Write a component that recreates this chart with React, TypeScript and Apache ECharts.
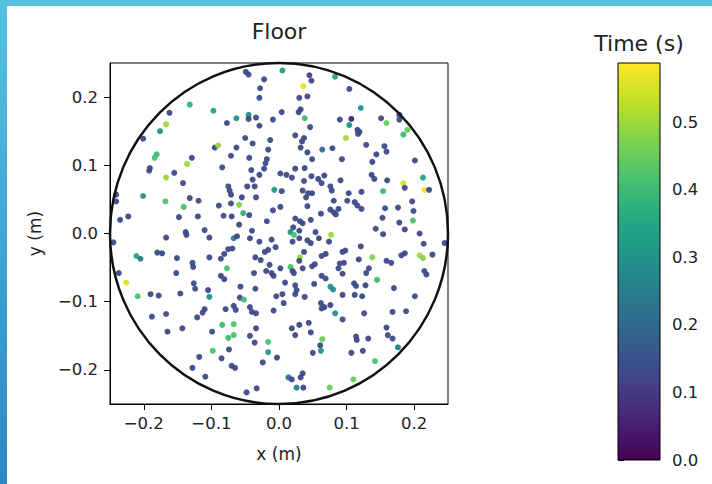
import React, { useEffect, useRef } from "react";
import * as echarts from "echarts";

// viridis colour map stops
const viridis = ["#440154", "#482475", "#414487", "#355f8d", "#2a788e", "#21918c", "#22a884", "#44bf70", "#7ad151", "#bddf26", "#fde725"];

const xTicks = [-0.2, -0.1, 0, 0.1, 0.2];
const yTicks = [-0.2, -0.1, 0, 0.1, 0.2];
const cbTicks = [0, 0.1, 0.2, 0.3, 0.4, 0.5];
const timeMax = 0.588;
const floorRadius = 0.25;

// [x (m), y (m), time (s)], by region
const centerNW = [
  [-0.050, 0.140, 0.13], [-0.013, 0.137, 0.13], [-0.039, 0.132, 0.13], [-0.095, 0.126, 0.13], [-0.090, 0.129, 0.50],
  [-0.063, 0.126, 0.13], [-0.016, 0.123, 0.13], [-0.129, 0.111, 0.13], [-0.071, 0.114, 0.13], [-0.044, 0.111, 0.13],
  [-0.018, 0.109, 0.13], [-0.020, 0.103, 0.13], [-0.136, 0.102, 0.50], [-0.084, 0.097, 0.13], [-0.022, 0.095, 0.13],
  [-0.041, 0.093, 0.13], [-0.029, 0.086, 0.13], [-0.039, 0.079, 0.13], [-0.142, 0.074, 0.13], [-0.075, 0.069, 0.13],
  [-0.073, 0.063, 0.13], [-0.071, 0.057, 0.13], [-0.047, 0.069, 0.13], [-0.036, 0.069, 0.13], [-0.007, 0.064, 0.32],
  [-0.055, 0.053, 0.13], [-0.034, 0.053, 0.13], [-0.132, 0.052, 0.13], [-0.119, 0.048, 0.13], [-0.071, 0.044, 0.13],
  [-0.059, 0.042, 0.48], [-0.141, 0.039, 0.42], [-0.089, 0.041, 0.13], [-0.009, 0.034, 0.13], [-0.053, 0.030, 0.38],
  [-0.044, 0.027, 0.13], [-0.082, 0.026, 0.13], [-0.070, 0.025, 0.13], [-0.120, 0.025, 0.13], [-0.148, 0.024, 0.13],
  [-0.018, 0.018, 0.13], [-0.059, 0.013, 0.13], [-0.110, 0.005, 0.13], [-0.138, 0.002, 0.13], [-0.040, 0.004, 0.13],
];

const centerNE = [
  [0.024, 0.144, 0.13], [0.037, 0.140, 0.13], [0.034, 0.135, 0.13], [0.099, 0.140, 0.50], [0.117, 0.146, 0.13],
  [0.129, 0.130, 0.13], [0.032, 0.126, 0.13], [0.064, 0.123, 0.20], [0.079, 0.125, 0.13], [0.042, 0.119, 0.13],
  [0.049, 0.109, 0.13], [0.093, 0.109, 0.13], [0.144, 0.116, 0.13], [0.138, 0.105, 0.13], [0.024, 0.095, 0.13],
  [0.038, 0.096, 0.13], [0.002, 0.088, 0.13], [0.011, 0.086, 0.13], [0.019, 0.082, 0.13], [0.137, 0.086, 0.13],
  [0.141, 0.080, 0.13], [0.048, 0.084, 0.13], [0.067, 0.085, 0.13], [0.058, 0.080, 0.13], [0.063, 0.074, 0.13],
  [0.037, 0.077, 0.13], [0.091, 0.078, 0.13], [0.076, 0.069, 0.13], [0.078, 0.063, 0.13], [0.004, 0.062, 0.13],
  [0.035, 0.063, 0.13], [0.043, 0.059, 0.13], [0.049, 0.059, 0.13], [0.040, 0.053, 0.13], [0.103, 0.059, 0.13],
  [0.122, 0.061, 0.13], [0.002, 0.039, 0.13], [0.042, 0.040, 0.13], [0.081, 0.048, 0.13], [0.101, 0.048, 0.13],
  [0.112, 0.046, 0.13], [0.116, 0.041, 0.13], [0.076, 0.035, 0.13], [0.081, 0.031, 0.13], [0.088, 0.036, 0.13],
  [0.084, 0.028, 0.13], [0.062, 0.029, 0.13], [0.122, 0.036, 0.13], [0.024, 0.022, 0.13], [0.031, 0.018, 0.13],
  [0.035, 0.015, 0.13], [0.047, 0.020, 0.13], [0.021, 0.009, 0.13], [0.030, 0.004, 0.13], [0.017, 0.002, 0.30],
  [0.054, 0.002, 0.13], [0.077, -0.002, 0.50], [0.143, 0.007, 0.13],
];

const centerSW = [
  [-0.137, -0.002, 0.13], [-0.103, -0.006, 0.13], [-0.067, -0.007, 0.25], [-0.062, -0.004, 0.13], [-0.043, -0.007, 0.13],
  [-0.029, -0.012, 0.13], [-0.011, -0.009, 0.13], [-0.069, -0.022, 0.13], [-0.075, -0.023, 0.13], [-0.081, -0.030, 0.13],
  [-0.086, -0.037, 0.13], [-0.016, -0.024, 0.13], [-0.021, -0.027, 0.13], [-0.005, -0.020, 0.13], [-0.103, -0.035, 0.13],
  [-0.035, -0.035, 0.13], [-0.027, -0.039, 0.13], [-0.128, -0.043, 0.13], [-0.127, -0.049, 0.13], [-0.014, -0.046, 0.13],
  [-0.077, -0.051, 0.42], [-0.019, -0.055, 0.13], [-0.011, -0.058, 0.13], [-0.008, -0.062, 0.13], [-0.037, -0.058, 0.13],
  [-0.086, -0.062, 0.13], [-0.081, -0.067, 0.13], [-0.126, -0.073, 0.13], [-0.124, -0.081, 0.13], [-0.057, -0.078, 0.13],
  [-0.035, -0.081, 0.13], [-0.105, -0.083, 0.13], [-0.103, -0.093, 0.30], [-0.146, -0.088, 0.13], [-0.058, -0.094, 0.13],
  [-0.052, -0.097, 0.40], [-0.004, -0.092, 0.13], [-0.110, -0.111, 0.13], [-0.113, -0.116, 0.13], [-0.079, -0.111, 0.13],
  [-0.067, -0.106, 0.13], [-0.064, -0.112, 0.13], [-0.043, -0.108, 0.13], [-0.040, -0.115, 0.13], [-0.034, -0.117, 0.13],
  [-0.008, -0.113, 0.13], [-0.121, -0.123, 0.13], [-0.084, -0.134, 0.40], [-0.067, -0.133, 0.42], [-0.034, -0.139, 0.13],
  [-0.143, -0.139, 0.13], [-0.099, -0.144, 0.13],
];

const centerSE = [
  [0.022, -0.002, 0.42], [0.030, -0.007, 0.13], [0.020, -0.012, 0.13], [0.042, -0.010, 0.13], [0.047, -0.014, 0.13],
  [0.059, -0.007, 0.13], [0.074, -0.012, 0.13], [0.121, -0.019, 0.13], [0.037, -0.027, 0.13], [0.063, -0.033, 0.13],
  [0.069, -0.030, 0.13], [0.094, -0.027, 0.13], [0.098, -0.025, 0.13], [0.031, -0.035, 0.50], [0.030, -0.040, 0.13],
  [0.138, -0.035, 0.48], [0.118, -0.038, 0.13], [0.002, -0.051, 0.13], [0.017, -0.049, 0.42], [0.020, -0.055, 0.13],
  [0.022, -0.058, 0.13], [0.035, -0.051, 0.13], [0.049, -0.048, 0.13], [0.053, -0.045, 0.13], [0.090, -0.044, 0.13],
  [0.096, -0.043, 0.13], [0.088, -0.051, 0.13], [0.094, -0.059, 0.13], [0.133, -0.051, 0.13], [0.129, -0.058, 0.13],
  [0.145, -0.068, 0.40], [0.009, -0.072, 0.13], [0.063, -0.062, 0.13], [0.069, -0.066, 0.13], [0.052, -0.074, 0.13],
  [0.024, -0.076, 0.13], [0.026, -0.083, 0.13], [0.076, -0.078, 0.30], [0.080, -0.082, 0.28], [0.111, -0.073, 0.13],
  [0.114, -0.077, 0.13], [0.128, -0.076, 0.13], [0.005, -0.089, 0.13], [0.024, -0.089, 0.13], [0.038, -0.093, 0.13],
  [0.112, -0.090, 0.13], [0.123, -0.092, 0.13], [0.094, -0.090, 0.13], [0.007, -0.102, 0.13], [0.062, -0.102, 0.13],
  [0.067, -0.108, 0.13], [0.076, -0.105, 0.13], [0.063, -0.110, 0.13], [0.083, -0.117, 0.30], [0.126, -0.117, 0.13],
  [0.094, -0.126, 0.13], [0.030, -0.134, 0.13], [0.044, -0.131, 0.13], [0.019, -0.139, 0.13], [0.047, -0.145, 0.13],
];

const outerNW = [
  [-0.049, 0.237, 0.13], [-0.045, 0.233, 0.13], [-0.022, 0.226, 0.13], [-0.028, 0.213, 0.13], [-0.029, 0.199, 0.13],
  [-0.132, 0.189, 0.38], [-0.162, 0.177, 0.13], [-0.097, 0.180, 0.35], [-0.063, 0.169, 0.30], [-0.045, 0.174, 0.30],
  [-0.045, 0.168, 0.13], [-0.034, 0.170, 0.13], [-0.077, 0.162, 0.13], [-0.167, 0.160, 0.50], [-0.176, 0.150, 0.30],
  [-0.029, 0.158, 0.13], [-0.009, 0.167, 0.13], [-0.201, 0.139, 0.13], [-0.181, 0.116, 0.40], [-0.184, 0.111, 0.42],
  [-0.191, 0.096, 0.13], [-0.192, 0.092, 0.13], [-0.155, 0.089, 0.13], [-0.167, 0.082, 0.50], [-0.201, 0.055, 0.30],
  [-0.168, 0.047, 0.42], [-0.235, 0.020, 0.13], [-0.223, 0.025, 0.13], [-0.241, 0.057, 0.13], [-0.241, 0.047, 0.13],
];

const outerSW = [
  [-0.245, -0.013, 0.13], [-0.167, -0.006, 0.13], [-0.211, -0.033, 0.35], [-0.205, -0.037, 0.25], [-0.180, -0.028, 0.13],
  [-0.173, -0.029, 0.13], [-0.151, -0.036, 0.13], [-0.237, -0.058, 0.13], [-0.226, -0.072, 0.56], [-0.152, -0.058, 0.13],
  [-0.209, -0.092, 0.42], [-0.190, -0.089, 0.13], [-0.178, -0.091, 0.13], [-0.188, -0.122, 0.13], [-0.167, -0.118, 0.13],
  [-0.165, -0.144, 0.13], [-0.118, -0.181, 0.13], [-0.128, -0.197, 0.13], [-0.109, -0.210, 0.13], [-0.070, -0.194, 0.13],
  [-0.065, -0.197, 0.13], [-0.074, -0.170, 0.13], [-0.098, -0.172, 0.42], [-0.085, -0.183, 0.13], [-0.075, -0.153, 0.40],
  [-0.067, -0.149, 0.42], [-0.043, -0.150, 0.13], [-0.036, -0.160, 0.13], [-0.016, -0.159, 0.42], [-0.016, -0.174, 0.32],
  [-0.024, -0.189, 0.13], [-0.048, -0.233, 0.13], [-0.033, -0.227, 0.13],
];

const outerNE = [
  [0.005, 0.239, 0.32], [0.045, 0.232, 0.13], [0.048, 0.224, 0.13], [0.036, 0.216, 0.57], [0.083, 0.230, 0.35],
  [0.104, 0.212, 0.13], [0.030, 0.199, 0.13], [0.042, 0.201, 0.13], [0.121, 0.184, 0.30], [0.004, 0.178, 0.13],
  [0.032, 0.182, 0.13], [0.029, 0.178, 0.13], [0.038, 0.169, 0.40], [0.090, 0.167, 0.13], [0.107, 0.168, 0.06],
  [0.104, 0.159, 0.30], [0.116, 0.152, 0.13], [0.119, 0.149, 0.13], [0.151, 0.169, 0.13], [0.159, 0.162, 0.45],
  [0.178, 0.167, 0.13], [0.178, 0.174, 0.13], [0.046, 0.156, 0.13], [0.184, 0.145, 0.40], [0.190, 0.152, 0.45],
  [0.156, 0.128, 0.13], [0.159, 0.120, 0.13], [0.201, 0.107, 0.13], [0.213, 0.082, 0.35], [0.184, 0.074, 0.55],
  [0.186, 0.067, 0.13], [0.154, 0.062, 0.40], [0.215, 0.064, 0.58], [0.222, 0.064, 0.13], [0.197, 0.047, 0.13],
  [0.176, 0.038, 0.13], [0.157, 0.037, 0.13], [0.199, 0.033, 0.13], [0.198, 0.019, 0.42], [0.178, 0.016, 0.13],
  [0.153, 0.023, 0.13], [0.186, 0.006, 0.13], [0.160, 0.078, 0.13],
];

const outerSE = [
  [0.154, -0.001, 0.13], [0.208, 0.000, 0.13], [0.214, -0.015, 0.13], [0.245, -0.014, 0.13], [0.186, -0.029, 0.13],
  [0.181, -0.032, 0.13], [0.208, -0.032, 0.50], [0.213, -0.036, 0.48], [0.227, -0.031, 0.13], [0.159, -0.040, 0.13],
  [0.166, -0.043, 0.13], [0.215, -0.055, 0.13], [0.218, -0.060, 0.13], [0.170, -0.080, 0.13], [0.201, -0.092, 0.13],
  [0.188, -0.114, 0.13], [0.168, -0.115, 0.13], [0.159, -0.138, 0.13], [0.161, -0.149, 0.13], [0.168, -0.154, 0.13],
  [0.176, -0.167, 0.25], [0.142, -0.187, 0.42], [0.110, -0.214, 0.45], [0.107, -0.175, 0.13], [0.124, -0.172, 0.13],
  [0.114, -0.151, 0.13], [0.115, -0.156, 0.13], [0.132, -0.154, 0.13], [0.064, -0.155, 0.45], [0.061, -0.164, 0.13],
  [0.062, -0.172, 0.30], [0.050, -0.175, 0.13], [-0.003, -0.182, 0.13], [0.035, -0.205, 0.13], [0.032, -0.211, 0.13],
  [0.014, -0.211, 0.22], [0.019, -0.214, 0.13], [0.026, -0.226, 0.25], [0.036, -0.226, 0.13], [0.075, -0.226, 0.45],
  [0.024, -0.149, 0.13],
];

const FONT = "DejaVu Sans";
const TXT = "#222";

const fmt = (v: number) => {
  const s = Math.abs(v).toFixed(1);
  return v < -1e-9 ? "\u2212" + s : s;
};

export default function App() {
  const ref = useRef<HTMLDivElement>(null);

  useEffect(() => {
    if (!ref.current) return;
    const chart = echarts.init(ref.current, undefined, { renderer: "svg" });
    const points = [...centerNW, ...centerNE, ...centerSW, ...centerSE, ...outerNW, ...outerSW, ...outerNE, ...outerSE];

    const labelStyle = { fontFamily: FONT, fontSize: 16.5, color: TXT };
    const tickStyle = { color: "#000", width: 1 };

    const option: any = {
      animation: false,
      backgroundColor: "#fff",
      grid: [
        { left: 110, top: 63, width: 338, height: 341, show: true, borderColor: "#000", borderWidth: 1, backgroundColor: "transparent" },
        { left: 618, top: 63, width: 42, height: 397, show: false },
      ],
      xAxis: [
        {
          gridIndex: 0, type: "value", min: -0.25, max: 0.25,
          splitLine: { show: false },
          axisLine: { show: true, onZero: false, lineStyle: { color: "#000" } },
          axisTick: { show: true, inside: false, length: 6, customValues: xTicks, lineStyle: tickStyle },
          axisLabel: { ...labelStyle, customValues: xTicks, formatter: fmt, margin: 11 },
          name: "x (m)", nameLocation: "middle", nameGap: 41,
          nameTextStyle: { fontFamily: FONT, fontSize: 17, color: TXT },
        },
        { gridIndex: 1, type: "value", min: 0, max: 1, show: false },
      ],
      yAxis: [
        {
          gridIndex: 0, type: "value", min: -0.25, max: 0.25,
          splitLine: { show: false },
          axisLine: { show: true, onZero: false, lineStyle: { color: "#000" } },
          axisTick: { show: true, inside: false, length: 6, customValues: yTicks, lineStyle: tickStyle },
          axisLabel: { ...labelStyle, customValues: yTicks, formatter: fmt, margin: 12 },
          name: "y (m)", nameLocation: "middle", nameGap: 67,
          nameTextStyle: { fontFamily: FONT, fontSize: 17, color: TXT },
        },
        {
          gridIndex: 1, type: "value", min: 0, max: timeMax, position: "right",
          splitLine: { show: false },
          axisLine: { show: false },
          axisTick: { show: true, inside: false, length: 6, customValues: cbTicks, lineStyle: tickStyle },
          axisLabel: { ...labelStyle, customValues: cbTicks, formatter: fmt, margin: 12 },
        },
      ],
      visualMap: {
        type: "continuous", show: false, min: 0, max: timeMax, dimension: 2, seriesIndex: 0,
        inRange: { color: viridis },
      },
      graphic: [
        {
          type: "rect", left: 0, top: 0, z: 100,
          shape: { x: 0, y: 0, width: 7, height: 484 },
          style: {
            fill: new echarts.graphic.LinearGradient(0, 0, 0, 1, [
              { offset: 0, color: "#56c1e2" },
              { offset: 1, color: "#2b88c3" },
            ]),
          },
        },
        { type: "rect", left: 0, top: 0, z: 100, shape: { x: 0, y: 0, width: 712, height: 6 }, style: { fill: "#55c0e0" } },
        {
          type: "text", x: 279, y: 31, z: 100,
          style: { text: "Floor", fill: TXT, fontFamily: FONT, fontSize: 22, align: "center", verticalAlign: "middle", textAlign: "center", textVerticalAlign: "middle" },
        },
        {
          type: "text", x: 639, y: 43, z: 100,
          style: { text: "Time (s)", fill: TXT, fontFamily: FONT, fontSize: 22, align: "center", verticalAlign: "middle", textAlign: "center", textVerticalAlign: "middle" },
        },
      ],
      series: [
        {
          type: "scatter", xAxisIndex: 0, yAxisIndex: 0,
          data: points, symbolSize: 6, itemStyle: { opacity: 0.95 },
        },
        {
          type: "custom", xAxisIndex: 0, yAxisIndex: 0, silent: true, z: 5,
          data: [[0, 0, floorRadius]],
          renderItem: (params: any, api: any) => {
            const c = api.coord([api.value(0), api.value(1)]);
            const s = api.size([api.value(2), api.value(2)]);
            return {
              type: "ellipse",
              shape: { cx: c[0], cy: c[1], rx: s[0], ry: s[1] },
              style: { fill: "none", stroke: "#111", lineWidth: 2.5 },
            };
          },
        },
        {
          type: "custom", xAxisIndex: 1, yAxisIndex: 1, silent: true,
          data: [[0, 0, 1, timeMax]],
          renderItem: (params: any, api: any) => {
            const p0 = api.coord([api.value(0), api.value(1)]);
            const p1 = api.coord([api.value(2), api.value(3)]);
            return {
              type: "rect",
              shape: { x: p0[0], y: p1[1], width: p1[0] - p0[0], height: p0[1] - p1[1] },
              style: {
                fill: new echarts.graphic.LinearGradient(0, 1, 0, 0, viridis.map((c, i) => ({ offset: i / (viridis.length - 1), color: c }))),
                stroke: "#000", lineWidth: 1,
              },
            };
          },
        },
      ],
    };

    chart.setOption(option);
    return () => chart.dispose();
  }, []);

  return <div ref={ref} style={{ position: "fixed", left: 0, top: 0, width: 712, height: 484, background: "#fff" }} />;
}
